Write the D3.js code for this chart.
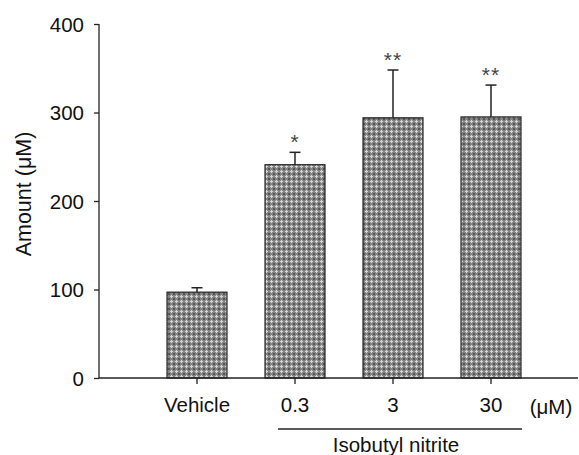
<!DOCTYPE html>
<meta charset="utf-8">
<style>
    body { margin: 0; background: #fff; }
    text { font-family: "Liberation Sans", Arial, sans-serif; fill: #111; }
</style>
<body>
<svg width="579" height="455"></svg>
<script src="https://d3js.org/d3.v7.min.js"></script>
<script>
    const groups = ["Vehicle", "0.3", "3", "30"];
    const means = [97, 241, 294, 295];
    const errors = [5, 14, 54, 36];
    const stars = ["", "*", "**", "**"];
    const yTicks = [0, 100, 200, 300, 400];

    const svg = d3.select("svg");
    const x0 = 99, xEnd = 578;

    const y = d3.scaleLinear().domain([0, 400]).range([378, 24]);
    const x = d3.scaleBand()
        .domain(groups)
        .range([148, 540])
        .paddingInner(0.388)
        .paddingOuter(0.194);

    // motif gris des barres
    const defs = svg.append("defs");
    const pat = defs.append("pattern")
        .attr("id", "hatch")
        .attr("width", 5).attr("height", 5)
        .attr("patternUnits", "userSpaceOnUse");
    pat.append("rect").attr("width", 5).attr("height", 5).attr("fill", "#858585");
    pat.append("rect").attr("x", 1).attr("y", 0).attr("width", 1).attr("height", 3).attr("fill", "#d6d6d6");
    pat.append("rect").attr("x", 0).attr("y", 1).attr("width", 3).attr("height", 1).attr("fill", "#d6d6d6");
    pat.append("rect").attr("x", 3).attr("y", 3).attr("width", 2).attr("height", 2).attr("fill", "#555");

    const data = groups.map((g, i) => ({ g, m: means[i], e: errors[i], s: stars[i] }));

    svg.append("g")
        .selectAll("rect")
        .data(data)
        .join("rect")
        .attr("x", d => x(d.g))
        .attr("y", d => y(d.m))
        .attr("width", x.bandwidth())
        .attr("height", d => y(0) - y(d.m))
        .attr("fill", "url(#hatch)")
        .attr("stroke", "#222")
        .attr("stroke-width", 1.2);

    // barres d'erreur
    const eb = svg.append("g").attr("stroke", "#222").attr("stroke-width", 1.5);
    data.forEach(d => {
        const cx = x(d.g) + x.bandwidth() / 2;
        eb.append("line").attr("x1", cx).attr("x2", cx).attr("y1", y(d.m)).attr("y2", y(d.m + d.e));
        eb.append("line").attr("x1", cx - 5.5).attr("x2", cx + 5.5).attr("y1", y(d.m + d.e)).attr("y2", y(d.m + d.e));
    });

    svg.append("g")
        .selectAll("text")
        .data(data.filter(d => d.s))
        .join("text")
        .attr("x", d => x(d.g) + x.bandwidth() / 2)
        .attr("y", d => y(d.m + d.e) - 3)
        .attr("text-anchor", "middle")
        .style("font-size", "21px")
        .style("fill", "#444")
        .style("letter-spacing", "1px")
        .text(d => d.s);

    // axe Y
    const yAxis = svg.append("g")
        .attr("transform", `translate(${x0},0)`)
        .call(d3.axisLeft(y).tickValues(yTicks).tickSize(5).tickPadding(10));
    yAxis.select(".domain").attr("stroke", "#222").attr("stroke-width", 1.3).attr("d", `M0,${y(400)}V${y(0)}`);
    yAxis.selectAll(".tick line").attr("stroke", "#222").attr("stroke-width", 1.3);
    yAxis.selectAll("text").style("font-size", "20.5px").attr("font-family", null).attr("dy", "0.36em");

    // axe X
    const xAxis = svg.append("g")
        .attr("transform", `translate(0,${y(0)})`)
        .call(d3.axisBottom(x).tickSize(6).tickPadding(13));
    xAxis.select(".domain").attr("stroke", "#222").attr("stroke-width", 1.3).attr("d", `M${x0},0H${xEnd}`);
    xAxis.selectAll(".tick line").attr("stroke", "#222").attr("stroke-width", 1.3);
    xAxis.selectAll("text").style("font-size", "20.5px").attr("font-family", null);

    svg.append("text")
        .attr("x", 551).attr("y", 414)
        .attr("text-anchor", "middle")
        .style("font-size", "20.5px")
        .text("(\u03bcM)");

    const lineX1 = 278, lineX2 = 522;
    svg.append("line")
        .attr("x1", lineX1).attr("x2", lineX2)
        .attr("y1", 429).attr("y2", 429)
        .attr("stroke", "#222").attr("stroke-width", 1.3);
    svg.append("text")
        .attr("x", (lineX1 + lineX2) / 2 - 4).attr("y", 452)
        .attr("text-anchor", "middle")
        .style("font-size", "20.5px")
        .text("Isobutyl nitrite");

    svg.append("text")
        .attr("transform", `translate(31,194) rotate(-90)`)
        .attr("text-anchor", "middle")
        .style("font-size", "21.5px")
        .text("Amount (\u03bcM)");
</script>
</body>
